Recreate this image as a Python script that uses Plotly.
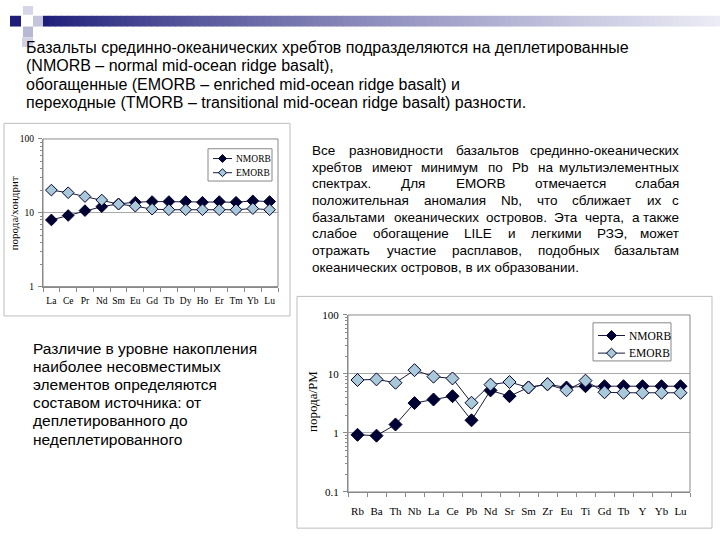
import plotly.graph_objects as go

W, H = 720, 540

# ---------------- data ----------------
ree_elements = ["La", "Ce", "Pr", "Nd", "Sm", "Eu", "Gd", "Tb", "Dy", "Ho", "Er", "Tm", "Yb", "Lu"]
ree_nmorb = [8.0, 9.2, 10.7, 12.1, 13.2, 13.9, 14.2, 14.2, 14.2, 13.9, 14.2, 13.9, 14.5, 14.2]
ree_emorb = [20.3, 18.7, 16.6, 14.9, 13.1, 12.3, 11.2, 11.0, 11.0, 11.0, 11.0, 11.0, 11.4, 11.0]

spider_elements = ["Rb", "Ba", "Th", "Nb", "La", "Ce", "Pb", "Nd", "Sr", "Sm", "Zr", "Eu", "Ti",
                   "Gd", "Tb", "Y", "Yb", "Lu"]
spider_nmorb = [0.93, 0.90, 1.39, 3.21, 3.69, 4.2, 1.64, 5.27, 4.2, 5.91, 6.7, 5.9, 6.2,
                6.2, 6.2, 6.2, 6.2, 6.2]
spider_emorb = [7.9, 8.1, 7.1, 11.6, 9.0, 8.4, 3.25, 6.6, 7.3, 5.9, 6.7, 5.3, 7.7,
                4.9, 4.8, 4.8, 4.8, 4.8]

series_names = ["NMORB", "EMORB"]

ree_ticks = [1, 10, 100]
ree_ticktext = ["1", "10", "100"]
spider_ticks = [0.1, 1, 10, 100]
spider_ticktext = ["0.1", "1", "10", "100"]

title_lines = [
    "Базальты срединно-океанических хребтов подразделяются на деплетированные",
    "(NMORB – normal mid-ocean ridge basalt),",
    "обогащенные (EMORB – enriched mid-ocean ridge basalt) и",
    "переходные (TMORB – transitional mid-ocean ridge basalt) разности.",
]
right_lines = [
    "Все разновидности базальтов срединно-океанических",
    "хребтов имеют минимум по Pb на мультиэлементных",
    "спектрах. Для EMORB отмечается слабая",
    "положительная аномалия Nb, что сближает их с",
    "базальтами океанических островов. Эта черта, а также",
    "слабое обогащение LILE и легкими РЗЭ, может",
    "отражать участие расплавов, подобных базальтам",
    "океанических островов, в их образовании.",
]
left_lines = [
    "Различие в уровне накопления",
    "наиболее несовместимых",
    "элементов определяются",
    "составом источника: от",
    "деплетированного до",
    "недеплетированного",
]

# ---------------- helpers ----------------
def px(x):
    return x / W

def py(y):
    return 1 - y / H

SANS = "Liberation Sans, Arial, sans-serif"
SERIF = "Liberation Serif, Times New Roman, serif"

AW = {}
for ch, w in zip("абвгдеёжзийклмнопрстуфхцчшщъыьэюя",
                 [556, 573, 531, 365, 583, 556, 556, 669, 458, 559, 559, 438, 583, 688, 552, 556,
                  542, 556, 500, 458, 500, 823, 500, 573, 521, 802, 823, 625, 719, 521, 510, 750, 542]):
    AW[ch] = w
for ch, w in zip("АБВГДЕЁЖЗИЙКЛМНОПРСТУФХЦЧШЩЪЫЬЭЮЯ",
                 [667, 656, 667, 542, 677, 667, 667, 923, 604, 719, 719, 583, 656, 833, 722, 778,
                  719, 667, 722, 611, 635, 760, 667, 740, 667, 917, 938, 792, 885, 656, 719, 1010, 722]):
    AW[ch] = w
AW.update({"E": 667, "M": 833, "O": 778, "R": 722, "B": 667, "L": 556, "I": 278, "N": 722,
           "P": 667, "b": 556, ".": 278, ",": 278, "-": 333, " ": 278, "Э": 719})

def tw(s, size):
    return sum(AW.get(c, 556) for c in s) * size / 1000.0

NAVY = "#000033"
LINE = "#1a1a3a"
EFILL = "#a9c9d9"
AXC = "#8a8a8a"
fills = [NAVY, EFILL]

fig = go.Figure()

# ---------------- traces ----------------
for name, vals, fc in zip(series_names, [ree_nmorb, ree_emorb], fills):
    fig.add_trace(go.Scatter(x=ree_elements, y=vals, name=name, mode="lines+markers",
                             line=dict(color=LINE, width=1),
                             marker=dict(symbol="diamond", size=9, color=fc, line=dict(color=NAVY, width=1)),
                             xaxis="x", yaxis="y", showlegend=False))
for name, vals, fc in zip(series_names, [spider_nmorb, spider_emorb], fills):
    fig.add_trace(go.Scatter(x=spider_elements, y=vals, name=name, mode="lines+markers",
                             line=dict(color=LINE, width=1),
                             marker=dict(symbol="diamond", size=10, color=fc, line=dict(color=NAVY, width=1)),
                             xaxis="x2", yaxis="y2", showlegend=False))

# ---------------- geometry ----------------
c1 = dict(l=43, r=278, t=136, b=287)
c2 = dict(l=348, r=690, t=316, b=497)

minor1 = [2, 3, 4, 5, 6, 7, 8, 9, 20, 30, 40, 50, 60, 70, 80, 90]
minor2 = [0.2, 0.3, 0.4, 0.5, 0.6, 0.7, 0.8, 0.9] + minor1

def xax(dom, n, fs, anchor, standoff):
    return dict(domain=dom, anchor=anchor, type="category", range=[-0.5, n - 0.5],
                showline=True, linecolor=AXC, linewidth=1, ticks="outside", tickson="boundaries",
                ticklen=4, tickcolor=AXC, showgrid=False, zeroline=False, tickangle=0,
                ticklabelstandoff=standoff,
                tickfont=dict(family=SERIF, size=fs, color="black"), fixedrange=True)

def yax(dom, rng, tv, tt, mv, fs, anchor):
    return dict(domain=dom, anchor=anchor, type="log", range=rng, tickmode="array",
                tickvals=tv, ticktext=tt, showline=True, linecolor=AXC, linewidth=1,
                ticks="outside", ticklen=4, tickcolor=AXC, showgrid=True, gridcolor="#a8a8a8",
                gridwidth=1, zeroline=False, ticklabelstandoff=2,
                minor=dict(tickmode="array", tickvals=mv, ticks="outside", ticklen=2,
                           tickcolor=AXC, showgrid=False),
                tickfont=dict(family=SERIF, size=fs, color="black"), fixedrange=True)

fig.update_layout(
    width=W, height=H, margin=dict(l=0, r=0, t=0, b=0),
    paper_bgcolor="white", plot_bgcolor="white", showlegend=False,
    xaxis=xax([px(c1["l"]), px(c1["r"])], len(ree_elements), 9.5, "y", 5),
    yaxis=yax([py(c1["b"]), py(c1["t"])], [0, 2], ree_ticks, ree_ticktext, minor1, 9.5, "x"),
    xaxis2=xax([px(c2["l"]), px(c2["r"])], len(spider_elements), 11, "y2", 9),
    yaxis2=yax([py(c2["b"]), py(c2["t"])], [-1, 2], spider_ticks, spider_ticktext, minor2, 11, "x2"),
)

shapes = []
# outer chart frames
shapes.append(dict(type="rect", xref="paper", yref="paper", x0=px(4), x1=px(290), y0=py(317), y1=py(120),
                   line=dict(color="#bdbdbd", width=1), layer="below"))
shapes.append(dict(type="rect", xref="paper", yref="paper", x0=px(297), x1=px(712), y0=py(534), y1=py(297),
                   line=dict(color="#bdbdbd", width=1), layer="below"))
# plot-area borders
for c in (c1, c2):
    shapes.append(dict(type="rect", xref="paper", yref="paper", x0=px(c["l"]), x1=px(c["r"]),
                       y0=py(c["b"]), y1=py(c["t"]), line=dict(color=AXC, width=1), layer="above"))

# top decoration: gradient bar
start_rgb = (30, 30, 122)
end_rgb = (236, 236, 246)
x0 = 43
step = 6
nseg = int((W - x0) / step) + 1
for i in range(nseg):
    t = i / max(nseg - 1, 1)
    t2 = t ** 0.85
    col = tuple(int(round(start_rgb[k] + (end_rgb[k] - start_rgb[k]) * t2)) for k in range(3))
    shapes.append(dict(type="rect", xref="paper", yref="paper",
                       x0=px(x0 + i * step), x1=px(min(x0 + (i + 1) * step + 0.5, W)),
                       y0=py(21), y1=py(10), line=dict(width=0),
                       fillcolor="rgb(%d,%d,%d)" % col, layer="below"))
# decoration squares
squares = [
    (10, 10, 21, 21, "#1e1e78"),
    (23, 0, 33, 9, "#d6d6e8"),
    (33, 10, 43, 21, "#c4c4dc"),
    (23, 21, 33, 32, "#b8b8d4"),
    (22, 32, 33, 42, "#d2d2e6"),
]
for (a, b, c, d, col) in squares:
    shapes.append(dict(type="rect", xref="paper", yref="paper", x0=px(a), x1=px(c),
                       y0=py(d), y1=py(b), line=dict(width=0), fillcolor=col, layer="below"))

ann = []

# custom legends (boxed, compact like the original)
def diamond_path(cx, cy, hw, hh):
    pts = [(cx, cy - hh), (cx + hw, cy), (cx, cy + hh), (cx - hw, cy)]
    return "M " + " L ".join("%f,%f" % (px(a), py(b)) for a, b in pts) + " Z"

def add_legend(box, rows_y, lx0, lx1, mx, msize, tx, fs):
    shapes.append(dict(type="rect", xref="paper", yref="paper", x0=px(box[0]), x1=px(box[2]),
                       y0=py(box[3]), y1=py(box[1]), line=dict(color="#888888", width=1),
                       fillcolor="white", layer="above"))
    for name, fc, yy in zip(series_names, fills, rows_y):
        shapes.append(dict(type="line", xref="paper", yref="paper", x0=px(lx0), x1=px(lx1),
                           y0=py(yy), y1=py(yy), line=dict(color=LINE, width=1), layer="above"))
        shapes.append(dict(type="path", xref="paper", yref="paper",
                           path=diamond_path(mx, yy, msize, msize),
                           fillcolor=fc, line=dict(color=NAVY, width=1), layer="above"))
        ann.append(dict(text=name, x=px(tx), y=py(yy), xref="paper", yref="paper",
                        xanchor="left", yanchor="middle", showarrow=False,
                        font=dict(family=SERIF, size=fs, color="black")))

add_legend((208, 146, 272, 179), [156, 170.5], 213, 232, 222.5, 4, 234, 9.5)
add_legend((593, 324, 671, 363), [337, 355], 598, 625, 611.5, 5, 626.5, 11.5)

fig.update_layout(shapes=shapes)

# title
for i, line in enumerate(title_lines):
    ann.append(dict(text=line, x=px(24), y=py(42 + i * 19), xref="paper", yref="paper",
                    xanchor="left", yanchor="middle", showarrow=False,
                    font=dict(family=SANS, size=16, color="black")))

# right paragraph, justified
RS = 13.5
rx0, rx1 = 310, 681
for i, line in enumerate(right_lines):
    yy = py(148 + i * 17)
    if i == len(right_lines) - 1:
        ann.append(dict(text=line, x=px(rx0), y=yy, xref="paper", yref="paper", xanchor="left",
                        yanchor="middle", showarrow=False, font=dict(family=SANS, size=RS, color="black")))
        continue
    words = line.split(" ")
    total = sum(tw(w, RS) for w in words)
    gap = (rx1 - rx0 - total) / (len(words) - 1)
    cur = rx0
    for j, wd in enumerate(words):
        if j == len(words) - 1:
            ann.append(dict(text=wd, x=px(rx1), y=yy, xref="paper", yref="paper", xanchor="right",
                            yanchor="middle", showarrow=False,
                            font=dict(family=SANS, size=RS, color="black")))
        else:
            ann.append(dict(text=wd, x=px(cur), y=yy, xref="paper", yref="paper", xanchor="left",
                            yanchor="middle", showarrow=False,
                            font=dict(family=SANS, size=RS, color="black")))
        cur += tw(wd, RS) + gap

# left paragraph
for i, line in enumerate(left_lines):
    ann.append(dict(text=line, x=px(31), y=py(350 + i * 18.6), xref="paper", yref="paper",
                    xanchor="left", yanchor="middle", showarrow=False,
                    font=dict(family=SANS, size=15.5, color="black")))

# axis titles
ann.append(dict(text="порода/хондрит", x=px(14), y=py(212), xref="paper", yref="paper",
                xanchor="center", yanchor="middle", showarrow=False, textangle=-90,
                font=dict(family=SERIF, size=11, color="black")))
ann.append(dict(text="порода/PM", x=px(312), y=py(405), xref="paper", yref="paper",
                xanchor="center", yanchor="middle", showarrow=False, textangle=-90,
                font=dict(family=SERIF, size=13, color="black")))

fig.update_layout(annotations=ann)

fig.write_html("out.html", config={"displayModeBar": False},
               post_script="document.body.style.margin='0px';document.body.style.padding='0px';")
